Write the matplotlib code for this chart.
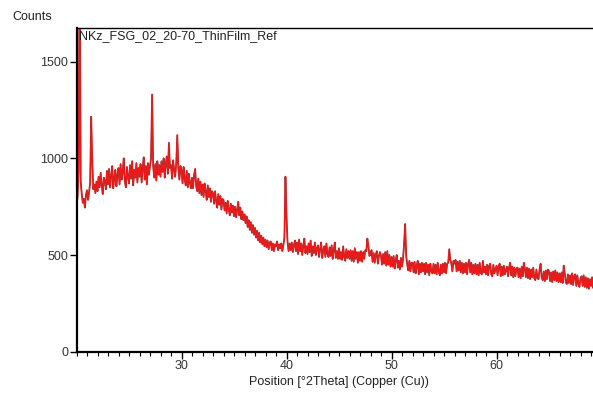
import numpy as np
import matplotlib
matplotlib.use("Agg")
import matplotlib.pyplot as plt
import matplotlib.patheffects as pe
from matplotlib.ticker import MultipleLocator

plt.rcParams['font.family'] = ['Liberation Sans', 'DejaVu Sans']

# scan settings
two_theta_start = 20.0
two_theta_step = 0.1
sample_name = "NKz_FSG_02_20-70_ThinFilm_Ref"

# counts per degree, one row per degree (0.1 deg steps)
counts_rows = [
    [755, 800, 935, 2000, 880, 815, 770, 790, 745, 810],    # 20
    [835, 785, 825, 875, 1215, 980, 840, 865, 820, 880],    # 21
    [830, 905, 850, 925, 860, 815, 900, 880, 840, 935],     # 22
    [865, 945, 850, 910, 960, 845, 900, 940, 855, 915],     # 23
    [950, 865, 970, 890, 930, 1000, 880, 850, 955, 905],    # 24
    [870, 965, 895, 985, 860, 940, 900, 975, 875, 950],     # 25
    [905, 970, 875, 945, 1005, 890, 960, 865, 975, 915],    # 26
    [960, 1000, 1330, 960, 900, 970, 885, 985, 915, 965],   # 27
    [905, 985, 930, 1000, 900, 970, 1010, 920, 1080, 950],  # 28
    [965, 895, 990, 940, 905, 975, 1120, 945, 890, 960],    # 29
    [940, 870, 955, 895, 860, 935, 850, 920, 875, 845],     # 30
    [900, 845, 915, 945, 855, 830, 895, 820, 880, 810],     # 31
    [865, 800, 870, 830, 785, 860, 800, 845, 775, 830],     # 32
    [820, 765, 830, 780, 745, 815, 760, 805, 735, 790],     # 33
    [785, 730, 770, 715, 780, 735, 705, 765, 720, 755],     # 34
    [700, 750, 695, 735, 775, 705, 745, 685, 725, 680],     # 35
    [710, 665, 700, 645, 680, 630, 670, 615, 655, 605],     # 36
    [640, 590, 625, 575, 615, 565, 600, 555, 590, 545],     # 37
    [580, 540, 575, 530, 565, 570, 525, 560, 520, 555],     # 38
    [545, 570, 525, 555, 535, 560, 520, 550, 590, 905],     # 39
    [700, 565, 520, 560, 525, 565, 515, 550, 575, 520],     # 40
    [565, 505, 580, 520, 560, 500, 550, 585, 510, 545],     # 41
    [505, 560, 515, 575, 495, 545, 510, 565, 500, 535],     # 42
    [550, 490, 530, 565, 485, 525, 545, 490, 560, 505],     # 43
    [490, 540, 495, 550, 480, 525, 565, 485, 520, 480],     # 44
    [535, 480, 515, 475, 545, 490, 470, 530, 485, 520],     # 45
    [480, 525, 470, 520, 465, 535, 480, 515, 460, 515],     # 46
    [470, 520, 465, 515, 480, 525, 520, 585, 545, 495],     # 47
    [505, 525, 465, 510, 460, 500, 520, 455, 495, 515],     # 48
    [495, 450, 505, 455, 515, 445, 520, 450, 500, 440],     # 49
    [490, 440, 495, 430, 475, 500, 435, 470, 425, 485],     # 50
    [440, 480, 560, 660, 495, 450, 420, 470, 415, 460],     # 51
    [460, 410, 465, 405, 445, 470, 400, 455, 410, 460],     # 52
    [415, 455, 400, 460, 410, 450, 395, 455, 415, 405],     # 53
    [455, 405, 450, 400, 460, 415, 395, 450, 405, 455],     # 54
    [410, 460, 405, 455, 460, 530, 475, 455, 415, 470],     # 55
    [455, 475, 415, 465, 420, 470, 410, 460, 405, 455],     # 56
    [410, 460, 400, 455, 475, 410, 460, 400, 450, 405],     # 57
    [455, 400, 450, 395, 460, 410, 400, 470, 410, 440],     # 58
    [400, 450, 395, 445, 455, 400, 390, 450, 405, 425],     # 59
    [445, 395, 440, 455, 390, 440, 395, 445, 400, 420],     # 60
    [440, 390, 435, 460, 395, 440, 385, 435, 390, 430],     # 61
    [435, 385, 430, 380, 440, 390, 460, 430, 385, 435],     # 62
    [380, 430, 375, 425, 385, 435, 380, 370, 425, 380],     # 63
    [375, 425, 455, 385, 370, 415, 365, 420, 375, 425],     # 64
    [415, 365, 410, 360, 415, 370, 420, 365, 410, 360],     # 65
    [405, 360, 410, 355, 445, 405, 360, 350, 400, 355],     # 66
    [395, 350, 405, 345, 390, 400, 340, 395, 350, 335],     # 67
    [380, 390, 340, 395, 335, 385, 330, 380, 325, 375],     # 68
    [340, 385, 330, 380, 325, 375, 335, 330, 380, 325],     # 69
    [355],                                                  # 70
]

counts = np.array([c for row in counts_rows for c in row], dtype=float)
two_theta = two_theta_start + two_theta_step * np.arange(len(counts))

fig = plt.figure(figsize=(5.93, 3.97), dpi=100)
ax = fig.add_axes([76.5 / 593, 1 - 351.7 / 397, 525 / 593, (351.7 - 28) / 397])

ax.plot(two_theta, counts, color='#f01818', lw=0.8,
        path_effects=[pe.Stroke(linewidth=1.3, foreground='#a83030'), pe.Normal()])

ax.set_xlim(20, 70)
ax.set_ylim(0, 1674)
ax.xaxis.set_major_locator(MultipleLocator(10))
ax.xaxis.set_minor_locator(MultipleLocator(1))
ax.set_xticks([30, 40, 50, 60])
ax.set_yticks([0, 500, 1000, 1500])
ax.tick_params(axis='both', which='major', direction='out', length=5, width=1,
               labelsize=9, colors='black', labelcolor='#333333', pad=1)
ax.tick_params(axis='x', which='minor', direction='out', length=3, width=0.8)

for side in ['left', 'bottom']:
    ax.spines[side].set_linewidth(1.6)
ax.spines['top'].set_linewidth(1.0)
ax.spines['right'].set_visible(False)

ax.set_xlabel("Position [°2Theta] (Copper (Cu))", fontsize=9, labelpad=3,
              color='#222222')
ax.text(0.005, 0.995, sample_name, transform=ax.transAxes, fontsize=9,
        ha='left', va='top', color='#222222')
fig.text(12 / 593, 1 - 17 / 397, "Counts", fontsize=9, ha='left', va='center',
         color='#222222')

fig.savefig("out.png", dpi=100)
